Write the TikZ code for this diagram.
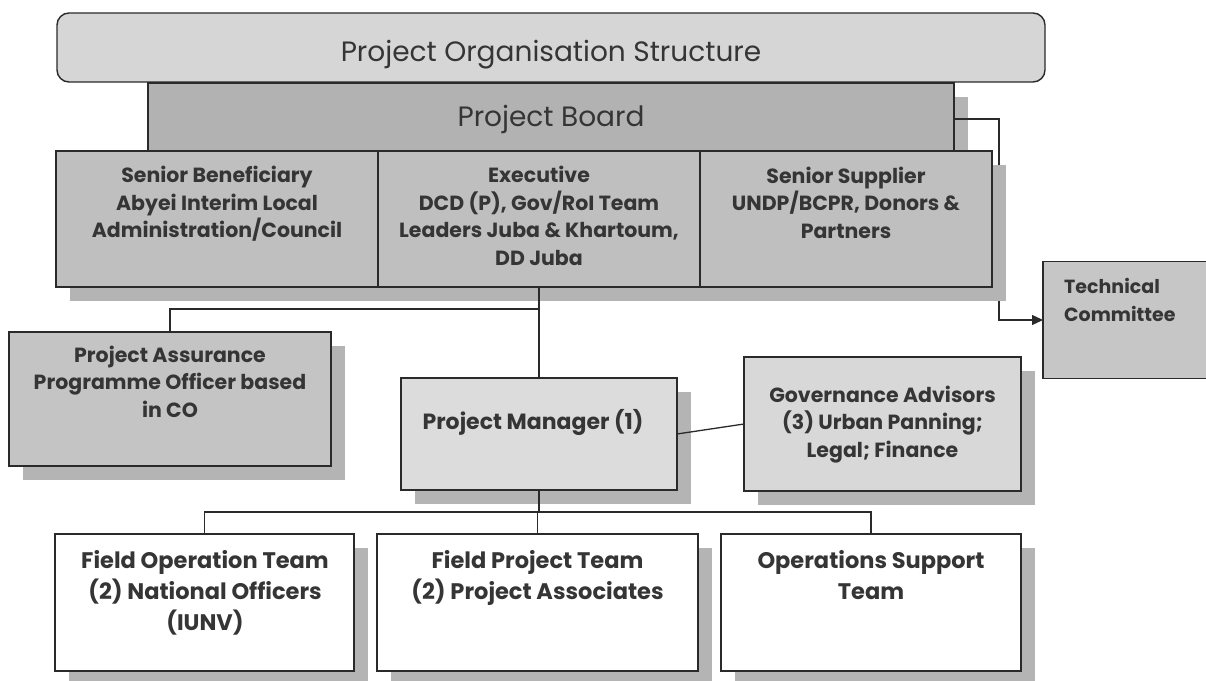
\documentclass[tikz,border=0pt]{standalone}
\usepackage{fontspec}
\setmainfont{Poppins}
\usetikzlibrary{shadows,arrows.meta}
\definecolor{txt}{HTML}{353535}
\definecolor{edge}{HTML}{2a2a2a}
\definecolor{shade}{HTML}{b4b4b4}
\definecolor{cTitle}{HTML}{d6d6d6}
\definecolor{cBoard}{HTML}{b2b2b2}
\definecolor{cRow}{HTML}{bfbfbf}
\definecolor{cPA}{HTML}{c4c4c4}
\definecolor{cPM}{HTML}{dcdcdc}
\definecolor{cGov}{HTML}{d8d8d8}
\definecolor{cTC}{HTML}{c6c6c6}
\newcommand\tx[1]{\begin{tabular}[t]{@{}c@{}}#1\end{tabular}}
\newcommand\txl[1]{\begin{tabular}[t]{@{}l@{}}#1\end{tabular}}
\tikzset{
  box/.style={draw=edge, line width=1.4pt, rectangle, inner sep=0pt, outer sep=0pt},
  shad/.style={drop shadow={shadow xshift=14pt, shadow yshift=-14pt, fill=shade, opacity=1}},
  lbl/.style={anchor=base, inner sep=0pt, text=txt},
  mid/.style={lbl, font=\bfseries\fontsize{20.5}{27.5}\selectfont},
  big/.style={lbl, font=\bfseries\fontsize{22.5}{31}\selectfont},
  conn/.style={draw=edge, line width=1.3pt},
}
\begin{document}
\begin{tikzpicture}[x=1pt,y=-1pt]
\useasboundingbox (0,0) rectangle (1206,680);
\clip (0,0) rectangle (1206,680);
\fill[white] (0,0) rectangle (1206,680);

% title
\node[box, fill=cTitle, rounded corners=12pt, minimum width=988pt, minimum height=69pt] (title) at (551,47.5) {};
\node[lbl, font=\fontsize{28}{32}\selectfont] (titletxt) at (551,61) {Project Organisation Structure};

% board
\node[box, shad, fill=cBoard, minimum width=806pt, minimum height=68pt] (board) at (551,117) {};
\node[lbl, font=\fontsize{28}{32}\selectfont] (boardtxt) at (551,126) {Project Board};

% technical committee
\node[box, fill=cTC, minimum width=180pt, minimum height=117pt] (tc) at (1133,320) {};
\node[lbl, font=\bfseries\fontsize{19}{28}\selectfont, anchor=base west] (tctxt) at (1064,293) {\txl{Technical\\Committee}};

% arrow board -> tc
\draw[conn, -{Triangle[length=11pt,width=10pt]}] (board.east |- 0,119) -- (999,119) |- (tc.west);

% row of three
\node[box, shad, fill=cRow, minimum width=322pt, minimum height=136pt] (sb) at (217,219) {};
\node[box, shad, fill=cRow, minimum width=322pt, minimum height=136pt] (ex) at (539,219) {};
\node[box, shad, fill=cRow, minimum width=292pt, minimum height=136pt] (ss) at (846,219) {};
\node[mid] (sbtxt) at (217,182.5) {\tx{Senior Beneficiary\\Abyei Interim Local\\Administration/Council}};
\node[mid] (extxt) at (539,182.5) {\tx{Executive\\DCD (P), Gov/RoI Team\\Leaders Juba \& Khartoum,\\DD Juba}};
\node[mid] (sstxt) at (846,183) {\tx{Senior Supplier\\UNDP/BCPR, Donors \&\\Partners}};

% project assurance
\node[box, shad, fill=cPA, minimum width=322pt, minimum height=134pt] (pa) at (170,399) {};
\node[mid] (patxt) at (170,362) {\tx{Project Assurance\\Programme Officer based\\in CO}};

% project manager
\node[box, shad, fill=cPM, minimum width=276pt, minimum height=112pt] (pm) at (539,434) {};
\node[mid, font=\bfseries\fontsize{22}{27.5}\selectfont] (pmtxt) at (533,429) {Project Manager (1)};

% governance
\node[box, shad, fill=cGov, minimum width=277pt, minimum height=134pt] (gov) at (882.5,424) {};
\node[mid] (govtxt) at (882.5,402) {\tx{Governance Advisors\\(3) Urban Panning;\\Legal; Finance}};

% bottom boxes
\node[box, shad, fill=white, minimum width=299pt, minimum height=137pt] (fo) at (204.5,602.5) {};
\node[box, shad, fill=white, minimum width=321pt, minimum height=137pt] (fp) at (537.5,602.5) {};
\node[box, shad, fill=white, minimum width=300pt, minimum height=137pt] (os) at (871,602.5) {};
\node[big] (fotxt) at (205,568) {\tx{Field Operation Team\\(2) National Officers\\(IUNV)}};
\node[big] (fptxt) at (537.5,568) {\tx{Field Project Team\\(2) Project Associates}};
\node[big] (ostxt) at (871,568) {\tx{Operations Support\\Team}};

% connectors
\coordinate (j1) at (539,309);
\draw[conn] (ex.south) -- (pm.north);
\draw[conn] (j1) -| (pa.north);
\draw[conn] (pm.east) -- (gov.west);
\coordinate (j2) at (537.5,512);
\draw[conn] (pm.south) -- (pm.south |- j2);
\draw[conn] (fo.north) |- (j2) -| (os.north);
\draw[conn] (j2) -- (fp.north);
\end{tikzpicture}
\end{document}
